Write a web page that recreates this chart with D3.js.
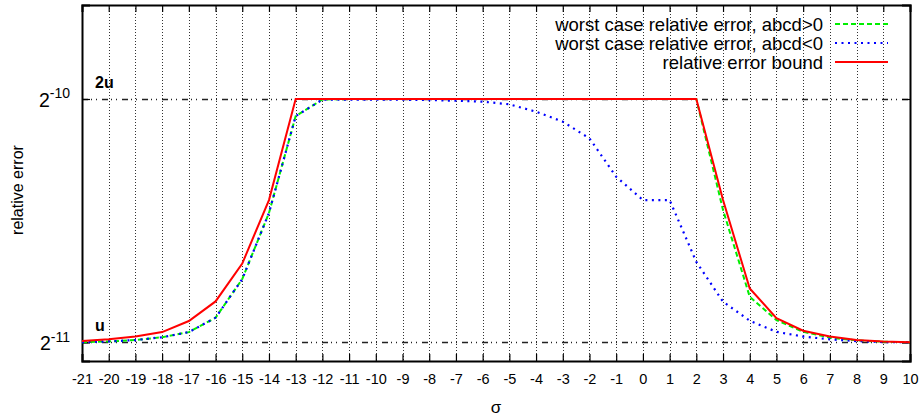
<!DOCTYPE html>
<html><head><meta charset="utf-8">
<script src="https://cdn.jsdelivr.net/npm/d3@7"></script>
<style>body{margin:0;background:#fff}svg text{font-family:"Liberation Sans",Arial,sans-serif;fill:#000}</style>
</head><body>
<svg id="c" width="924" height="417"></svg>
<script>
// sigma values (x categories)
const sigma = [-21,-20,-19,-18,-17,-16,-15,-14,-13,-12,-11,-10,-9,-8,-7,-6,-5,-4,-3,-2,-1,0,1,2,3,4,5,6,7,8,9,10];
// values in multiples of u = 2^-11
const errPos = [1.001,1.003,1.007,1.015,1.030,1.073,1.198,1.446,1.905,1.997,2,2,2,2,2,2,2,2,2,2,2,2,2,2,1.458,1.139,1.066,1.031,1.014,1.006,1.002,1.001];
const errNeg = [1.001,1.003,1.007,1.015,1.030,1.073,1.198,1.446,1.905,1.996,1.996,1.996,1.996,1.994,1.990,1.985,1.970,1.929,1.875,1.788,1.603,1.5,1.5,1.258,1.123,1.064,1.031,1.017,1.009,1.004,1.001,1.001];
const errBound = [1.004,1.009,1.017,1.030,1.063,1.124,1.252,1.5,2,2,2,2,2,2,2,2,2,2,2,2,2,2,2,2,1.5,1.166,1.072,1.034,1.017,1.007,1.003,1.001];
const yTickExp = [-11, -10];
const refLines = [{v:1, label:"u"}, {v:2, label:"2u"}];
const seriesNames = ["worst case relative error, abcd>0","worst case relative error, abcd<0","relative error bound"];

const u = Math.pow(2,-11);
const svg = d3.select("#c");
const L=82, R=910, T=5, B=361;
const x = d3.scaleLinear().domain([-21,10]).range([L,R]);
const y = d3.scaleLog().base(2).domain([Math.pow(2,-11.076), Math.pow(2,-9.614)]).range([B,T]);

// vertical grid
const g = svg.append("g");
g.selectAll("line.vg").data(sigma.slice(1,-1)).join("line")
  .attr("x1",d=>Math.round(x(d))+0.5).attr("x2",d=>Math.round(x(d))+0.5).attr("y1",T).attr("y2",B)
  .attr("stroke","#000").attr("stroke-width",1).attr("stroke-dasharray","1,2").attr("opacity",0.8);
// horizontal ref lines
g.selectAll("line.hg").data(refLines).join("line")
  .attr("x1",L).attr("x2",R).attr("y1",d=>Math.round(y(d.v*u))+0.5).attr("y2",d=>Math.round(y(d.v*u))+0.5)
  .attr("stroke","#222").attr("stroke-width",1.3).attr("stroke-dasharray","6,3,1,4,1,5");
g.selectAll("text.rl").data(refLines).join("text")
  .attr("x",95).attr("y",d=>y(d.v*u)-11).attr("font-weight","bold").attr("font-size",16).text(d=>d.label);

// axes
const xAxisB = d3.axisBottom(x).tickValues(sigma).tickSize(-7).tickPadding(13).tickFormat(d=>String(d));
const xAxisT = d3.axisTop(x).tickValues(sigma).tickSize(-7).tickFormat("");
const gb = svg.append("g").attr("transform",`translate(0,${B})`).call(xAxisB);
const gt = svg.append("g").attr("transform",`translate(0,${T})`).call(xAxisT);
const yTicks = yTickExp.map(e=>Math.pow(2,e));
const gl = svg.append("g").attr("transform",`translate(${L},0)`).call(d3.axisLeft(y).tickValues(yTicks).tickSize(-8).tickFormat(""));
const gr = svg.append("g").attr("transform",`translate(${R},0)`).call(d3.axisRight(y).tickValues(yTicks).tickSize(-8).tickFormat(""));
[gb,gt,gl,gr].forEach(a=>{a.select(".domain").attr("stroke","#000").attr("stroke-width",2);a.selectAll(".tick line").attr("stroke","#000").attr("stroke-width",1.2);});
gb.selectAll("text").attr("font-size",14.5).attr("fill","#000").attr("font-family","Liberation Sans, Arial, sans-serif");
// y tick labels with superscript
const yl = svg.append("g");
yTickExp.forEach(e=>{
  const t = yl.append("text").attr("x",70).attr("y",y(Math.pow(2,e))+8).attr("text-anchor","end").attr("font-size",19.5);
  t.append("tspan").text("2");
  t.append("tspan").attr("font-size",14).attr("dy",-8.5).text(String(e));
});

// series
const line = d3.line().x((d,i)=>x(sigma[i])).y(d=>y(d*u));
const clip = svg.append("clipPath").attr("id","pc").append("rect").attr("x",L).attr("y",T).attr("width",R-L).attr("height",B-T);
const styles = [
  {data:errPos, color:"#00ee00", dash:"5,3", w:2},
  {data:errNeg, color:"#0000ff", dash:"2,4.5", w:2.2},
  {data:errBound, color:"#ff0000", dash:null, w:2}
];
const sg = svg.append("g").attr("clip-path","url(#pc)");
styles.forEach(s=>{
  sg.append("path").datum(s.data).attr("d",line).attr("fill","none")
    .attr("stroke",s.color).attr("stroke-width",s.w).attr("stroke-dasharray",s.dash);
});

// legend
const lg = svg.append("g");
seriesNames.forEach((n,i)=>{
  const yy = 24 + i*19;
  lg.append("text").attr("x",823).attr("y",yy+6.5).attr("text-anchor","end").attr("font-size",18.5).text(n);
  lg.append("line").attr("x1",835).attr("x2",888).attr("y1",yy).attr("y2",yy)
    .attr("stroke",styles[i].color).attr("stroke-width",styles[i].w).attr("stroke-dasharray",styles[i].dash);
});

// axis titles
svg.append("text").attr("x",(L+R)/2).attr("y",413).attr("text-anchor","middle").attr("font-size",17).text("σ");
svg.append("text").attr("transform",`translate(23,190) rotate(-90)`).attr("text-anchor","middle").attr("font-size",16).text("relative error");
</script>
</body></html>
